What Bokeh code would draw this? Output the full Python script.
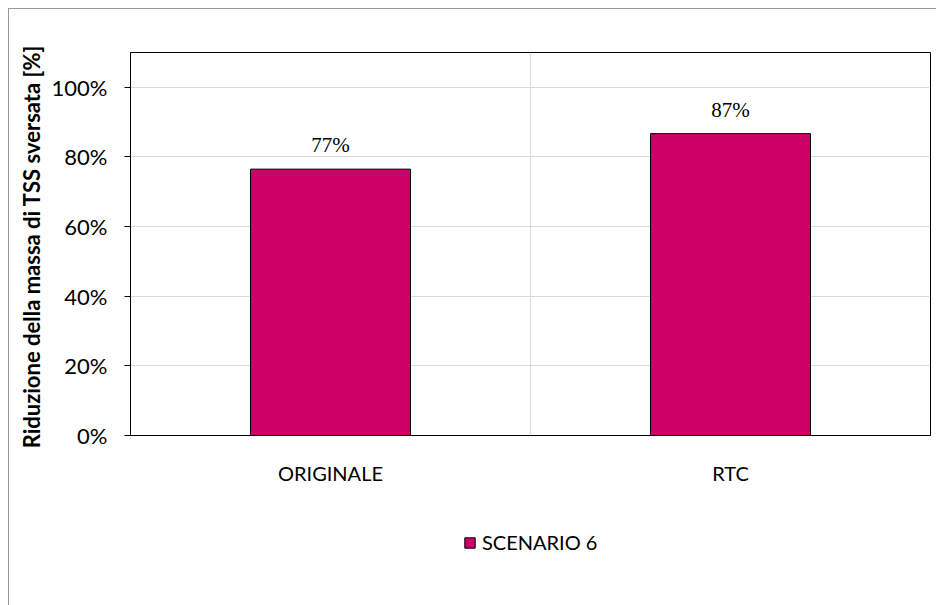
from bokeh.plotting import figure
from bokeh.layouts import column
from bokeh.models import (FactorRange, Range1d, FixedTicker, NumeralTickFormatter, Span,
                          Legend, LegendItem, LabelSet, ColumnDataSource)
from bokeh.embed import file_html
from bokeh.resources import INLINE

# ---- data ----
categories = ["ORIGINALE", "RTC"]
values = [0.765, 0.867]
value_labels = ["77%", "87%"]
y_ticks = [0, 0.2, 0.4, 0.6, 0.8, 1.0]
series_name = "SCENARIO 6"
y_title = "Riduzione della massa di TSS sversata  [%]"

FONT = "Lato"
BAR_COLOR = "#CC0066"
EDGE = "#999999"
Y_MAX = 1.1
FRAME_H = 383  # px

src = ColumnDataSource(data=dict(cat=categories, val=values, lab=value_labels))

p = figure(width=936, height=505,
           x_range=FactorRange(*categories, range_padding=0),
           y_range=Range1d(0, Y_MAX),
           output_backend="svg", toolbar_location=None,
           min_border_left=130, min_border_right=6,
           min_border_top=52, min_border_bottom=70)
p.styles = {"background": f"linear-gradient({EDGE},{EDGE}) 8px 8px / 1px 100% no-repeat, "
                          f"linear-gradient({EDGE},{EDGE}) 8px 8px / 100% 1px no-repeat, #ffffff"}
p.background_fill_color = "white"
p.border_fill_color = None
p.outline_line_color = "black"
p.outline_line_width = 1

# grid
p.xgrid.visible = False
p.ygrid.ticker = FixedTicker(ticks=y_ticks)
p.ygrid.grid_line_color = "#d9d9d9"
p.ygrid.grid_line_width = 1
boundaries = list(range(1, len(categories)))
for b in boundaries:
    p.add_layout(Span(location=b, dimension="height", line_color="#d9d9d9", line_width=1))

# y axis
yax = p.yaxis[0]
yax.ticker = FixedTicker(ticks=y_ticks)
yax.formatter = NumeralTickFormatter(format="0%")
yax.major_tick_out = 6
yax.major_tick_in = 0
yax.minor_tick_line_color = None
yax.axis_line_color = "black"
yax.major_tick_line_color = "black"
yax.major_label_text_font = FONT
yax.major_label_text_font_size = "22px"
yax.major_label_text_color = "black"
yax.major_label_standoff = 17
yax.axis_label = y_title
yax.axis_label_text_font = FONT
yax.axis_label_text_font_size = "22px"
yax.axis_label_text_font_style = "bold"
yax.axis_label_text_color = "black"
yax.axis_label_standoff = 4

# x axis
xax = p.xaxis[0]
xax.major_tick_line_color = None
xax.minor_tick_line_color = None
xax.axis_line_color = "black"
xax.major_label_text_font = FONT
xax.major_label_text_font_size = "20px"
xax.major_label_text_color = "black"
xax.major_label_standoff = 19

# inner tick marks between categories
tick_h = Y_MAX * 8 / FRAME_H
p.segment(x0=boundaries, y0=[0] * len(boundaries), x1=boundaries,
          y1=[tick_h] * len(boundaries), line_color="black", line_width=1)

# bars
r = p.vbar(x="cat", top="val", width=0.4, source=src,
           fill_color=BAR_COLOR, line_color="black", line_width=1)

# value labels
p.add_layout(LabelSet(x="cat", y="val", text="lab", source=src,
                      text_align="center", text_baseline="alphabetic",
                      y_offset=17, text_font=FONT, text_font_size="21px",
                      text_color="black"))

# ---- legend strip below the chart ----
p2 = figure(width=936, height=100,
            x_range=FactorRange(*categories), y_range=Range1d(5, 6),
            output_backend="svg", toolbar_location=None,
            min_border=0, min_border_left=0, min_border_right=0,
            min_border_top=0, min_border_bottom=0)
p2.styles = {"background": f"linear-gradient({EDGE},{EDGE}) 8px 0 / 1px 100% no-repeat, #ffffff"}
p2.axis.visible = False
p2.grid.visible = False
p2.outline_line_color = None
p2.background_fill_color = None
p2.border_fill_color = None
r2 = p2.vbar(x="cat", top="val", width=0.4, source=src,
             fill_color=BAR_COLOR, line_color="black", line_width=1)
leg = Legend(items=[LegendItem(label=series_name, renderers=[r2])],
             location=(333, 51), orientation="horizontal",
             padding=0, margin=0, spacing=0,
             border_line_color=None, background_fill_alpha=0,
             glyph_width=13, glyph_height=13, label_standoff=6,
             label_text_font=FONT, label_text_font_size="20px",
             label_text_color="black", label_height=20)
p2.add_layout(leg, "center")

layout = column(p, p2, spacing=0)
open("out.html", "w").write(file_html(layout, INLINE))
